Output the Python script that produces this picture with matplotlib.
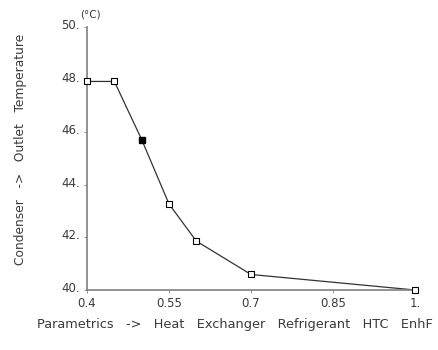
import matplotlib
matplotlib.use("Agg")
import matplotlib.pyplot as plt
from matplotlib.transforms import ScaledTranslation

# Parametric sweep: heat exchanger refrigerant HTC enhancement factor
htc_enhf = [0.4, 0.45, 0.5, 0.55, 0.6, 0.7, 1.0]
outlet_temp = [47.93, 47.93, 45.72, 43.27, 41.86, 40.59, 40.0]
selected_index = 2

x_ticks = [0.4, 0.55, 0.7, 0.85, 1.0]
x_tick_labels = ["0.4", "0.55", "0.7", "0.85", "1."]
y_ticks = [40, 42, 44, 46, 48, 50]
y_tick_labels = ["40.", "42.", "44.", "46.", "48.", "50."]

plt.rcParams["font.family"] = ["DejaVu Sans"]
text_color = "#3a3a3a"
axis_color = "#808080"

fig = plt.figure(figsize=(4.39, 3.5), dpi=100)
ax = fig.add_axes([87 / 439, 60 / 350, 328 / 439, 263 / 350])

ax.plot(htc_enhf, outlet_temp, color="#333333", lw=0.9, zorder=2)
open_x = [v for i, v in enumerate(htc_enhf) if i != selected_index]
open_y = [v for i, v in enumerate(outlet_temp) if i != selected_index]
ax.plot(open_x, open_y, ls="none", marker="s", ms=4.5, mfc="white",
        mec="black", mew=0.8, zorder=3, clip_on=False)
ax.plot([htc_enhf[selected_index]], [outlet_temp[selected_index]], ls="none",
        marker="s", ms=4.5, mfc="black", mec="black", zorder=3)

ax.set_xlim(0.4, 1.0)
ax.set_ylim(40, 50)
ax.set_xticks(x_ticks)
ax.set_xticklabels(x_tick_labels)
ax.set_yticks(y_ticks)
ax.set_yticklabels(y_tick_labels)

for side in ("top", "right"):
    ax.spines[side].set_visible(False)
for side in ("left", "bottom"):
    ax.spines[side].set_color(axis_color)
    ax.spines[side].set_linewidth(1.2)

ax.tick_params(axis="both", length=2, width=0.6, color=axis_color,
               labelsize=8.5, labelcolor=text_color)
ax.tick_params(axis="x", pad=3)
ax.tick_params(axis="y", pad=3)

# y tick labels sit slightly above their ticks
lift = ScaledTranslation(0, 3 / 100, fig.dpi_scale_trans)
for lbl in ax.get_yticklabels():
    lbl.set_transform(lbl.get_transform() + lift)

ax.set_xlabel("Parametrics   ->   Heat   Exchanger   Refrigerant   HTC   EnhF",
              fontsize=9.3, color=text_color)
ax.xaxis.set_label_coords(0.451, -0.133)
ax.xaxis.label.set_va("center")
ax.set_ylabel("Condenser   ->   Outlet   Temperature",
              fontsize=8.8, color=text_color)
ax.yaxis.set_label_coords(-0.204, 0.536)
ax.yaxis.label.set_va("center")
ax.text(-0.02, 1.03, "(°C)", transform=ax.transAxes, fontsize=7.5,
        color=text_color, ha="left", va="bottom")

fig.savefig("out.png", dpi=100)
